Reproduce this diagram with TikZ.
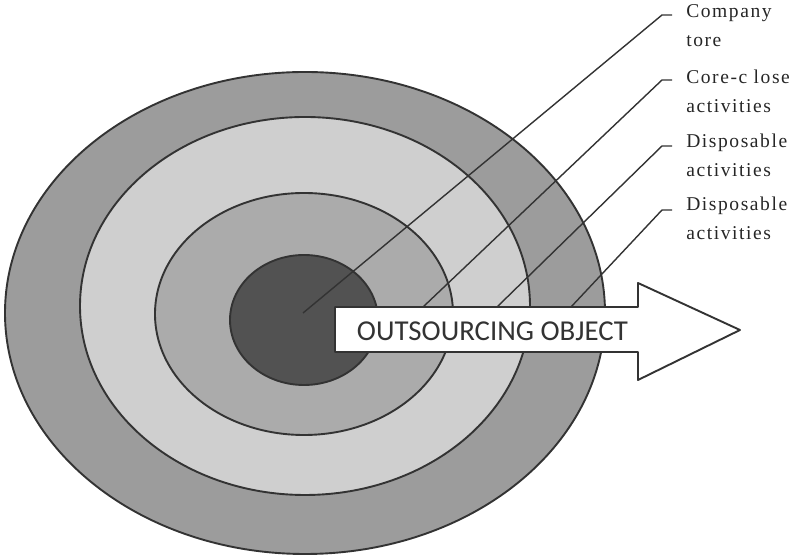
\documentclass[tikz,border=0pt]{standalone}
\usepackage{fontspec}
\newfontfamily\labelfont[LetterSpace=8]{Liberation Serif}
\newfontfamily\arrowfont{Carlito}
\definecolor{ringout}{gray}{0.61}
\definecolor{ringtwo}{gray}{0.81}
\definecolor{ringthree}{gray}{0.67}
\definecolor{corefill}{gray}{0.32}
\definecolor{rimgray}{gray}{0.2}

\begin{document}
\begin{tikzpicture}[line join=round,
  rim/.style={draw=rimgray,line width=1.35pt},
  leader/.style={draw=rimgray,line width=1pt},
  lbl/.style={font=\labelfont\fontsize{13.9}{20.8}\selectfont,text=black!85,
    align=left,inner sep=0pt,anchor=base west}]
  \useasboundingbox (0,0) rectangle (19.775,13.95);
  % target rings, outside in
  \filldraw[rim,fill=ringout] (7.625,6.125) ellipse (7.5 and 6.025);
  \filldraw[rim,fill=ringtwo] (7.625,6.3) ellipse (5.625 and 4.725);
  \filldraw[rim,fill=ringthree] (7.6,6.1) ellipse (3.725 and 3.025);
  \filldraw[rim,fill=corefill] (7.6,5.95) ellipse (1.85 and 1.625);
  % leader lines
  \coordinate (s1) at (7.575,6.125);
  \coordinate (s2) at (10.575,6.275);
  \coordinate (s3) at (12.425,6.275);
  \coordinate (s4) at (14.275,6.275);
  \coordinate (k1) at (16.55,13.575);
  \coordinate (k2) at (16.55,11.95);
  \coordinate (k3) at (16.55,10.3);
  \coordinate (k4) at (16.55,8.7);
  \foreach \i in {1,...,4}
    \draw[leader] (s\i) -- (k\i) -- ++(0.25,0);
  % arrow
  \filldraw[rim,fill=white] (8.375,6.275) -- (15.95,6.275) -- (15.95,6.875)
    -- (18.5,5.7) -- (15.95,4.45) -- (15.95,5.15) -- (8.375,5.15) -- cycle;
  \node[font=\arrowfont\fontsize{20.5}{24}\selectfont,text=black!80] (obj)
    at (12.31,5.675) {OUTSOURCING OBJECT};
  % labels (base anchor sits on the second line)
  \node[lbl] (core) at (17.15,12.775) {Company\\tore};
  \node[lbl] (close) at (17.15,11.125) {Core-c lose\\activities};
  \node[lbl] (disp1) at (17.15,9.525) {Disposable\\activities};
  \node[lbl] (disp2) at (17.15,7.95) {Disposable\\activities};
\end{tikzpicture}
\end{document}
